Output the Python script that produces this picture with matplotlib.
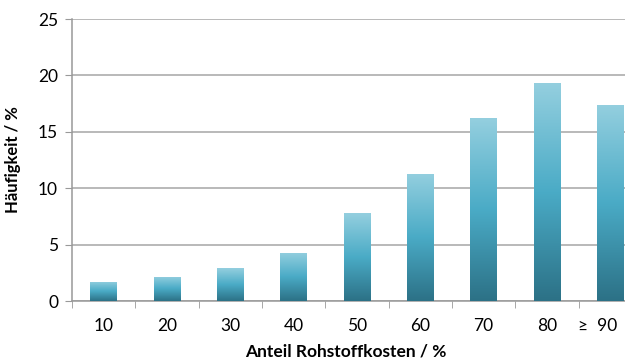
import matplotlib.pyplot as plt
import matplotlib.transforms as mtransforms
import numpy as np
from matplotlib.colors import LinearSegmentedColormap

# Anteil Rohstoffkosten (Klassen) und Häufigkeit in %
categories = ["10", "20", "30", "40", "50", "60", "70", "80", "\u2265  90"]
frequency = [1.7, 2.15, 2.9, 4.3, 7.8, 11.3, 16.2, 19.3, 17.4]

plt.rcParams['font.family'] = ['Lato', 'DejaVu Sans']

fig = plt.figure(figsize=(6.25, 3.61), dpi=100)
ax = fig.add_axes([0.1152, 0.1662, 0.912, 0.781])

x = np.arange(len(categories))
bars = ax.bar(x, frequency, width=0.42, color="none", edgecolor="none", zorder=3)

# vertical gradient inside each bar: dark at the bottom, light at the top
cmap = LinearSegmentedColormap.from_list("teal", ["#2c7186", "#4aabc6", "#94cfdf"])
grad = np.linspace(0, 1, 256).reshape(-1, 1)
for b in bars:
    x0, w, h = b.get_x(), b.get_width(), b.get_height()
    im = ax.imshow(grad, cmap=cmap, origin="lower", aspect="auto",
                   extent=[x0, x0 + w, 0, h], zorder=3)
    im.set_clip_path(b)

ax.set_xlim(-0.5, len(categories) - 0.5)
ax.set_ylim(0, 25)
ax.set_yticks(range(0, 26, 5))
ax.set_xticks(x)
ax.set_xticklabels(categories)
ax.set_xticks(np.arange(-0.5, len(categories)), minor=True)

ax.yaxis.grid(True, color="#a6a6a6", linewidth=1.1, zorder=0)
ax.set_axisbelow(True)
for side in ["top", "right"]:
    ax.spines[side].set_visible(False)
for side in ["left", "bottom"]:
    ax.spines[side].set_color("#999999")
    ax.spines[side].set_linewidth(1.1)

ax.tick_params(axis="y", length=5, color="#999999", labelsize=12.5, pad=5)
ax.tick_params(axis="x", which="major", length=0, labelsize=12.5, pad=12)
ax.tick_params(axis="x", which="minor", length=5, color="#999999")

# last label sits a little left of its bar
last = ax.get_xticklabels()[-1]
last.set_transform(last.get_transform() +
                   mtransforms.ScaledTranslation(-9 / 72, 0, fig.dpi_scale_trans))

ax.set_xlabel("Anteil Rohstoffkosten / %", fontsize=12.5, fontweight="bold")
ax.xaxis.set_label_coords(0.48, -0.15)
ax.set_ylabel("Häufigkeit / %", fontsize=12, fontweight="bold")
ax.yaxis.set_label_coords(-0.09, 0.5)

plt.savefig("out.png", dpi=100)
